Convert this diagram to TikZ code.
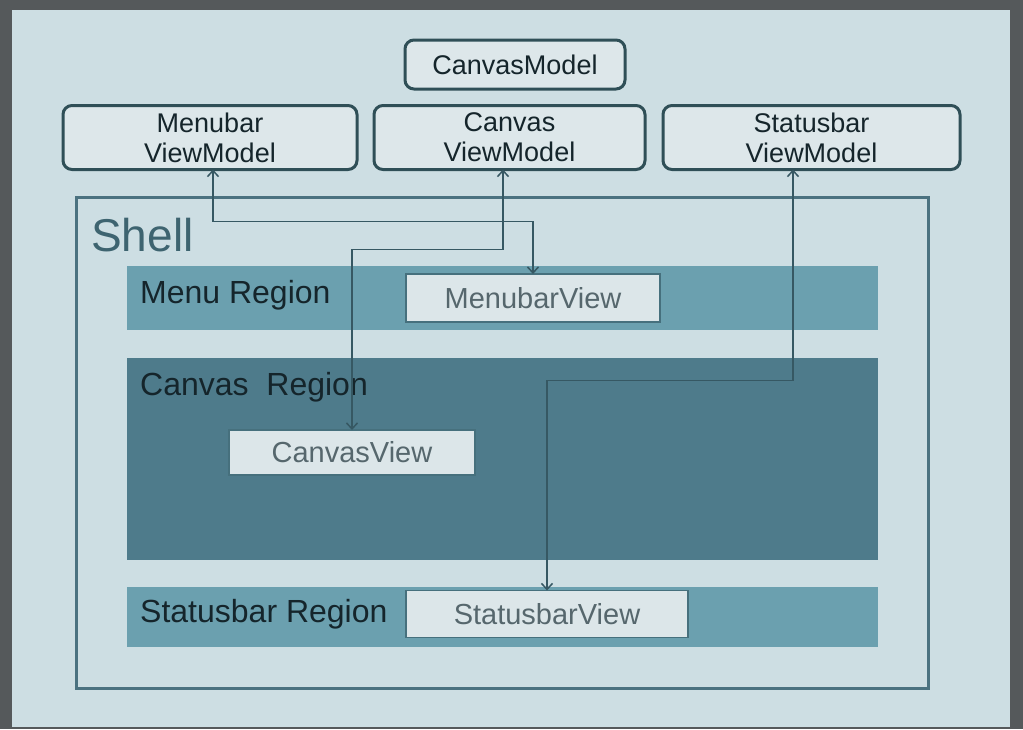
\documentclass[tikz,border=0pt]{standalone}
\usepackage{fontspec}
\setmainfont{Liberation Sans}
\usetikzlibrary{arrows.meta}
\definecolor{frame}{HTML}{55595B}
\definecolor{panel}{HTML}{CDDEE3}
\definecolor{boxfill}{HTML}{DDE7EA}
\definecolor{boxline}{HTML}{2F4F57}
\definecolor{shellline}{HTML}{4B7280}
\definecolor{shelltext}{HTML}{3E6470}
\definecolor{lightreg}{HTML}{6BA0AF}
\definecolor{darkreg}{HTML}{4E7B8B}
\definecolor{viewfill}{HTML}{DCE6E9}
\definecolor{viewtext}{HTML}{56676D}
\definecolor{viewshadow}{HTML}{46707D}
\definecolor{conn}{HTML}{365863}
\definecolor{regtext}{HTML}{15252B}
\tikzset{
  vmbox/.style={draw=boxline, line width=3pt, fill=boxfill, rounded corners=9pt,
    inner sep=0pt, outer sep=0pt, align=center, text=regtext,
    font=\fontsize{27}{30}\selectfont},
  shellbox/.style={draw=shellline, line width=3pt, inner sep=0pt, outer sep=0pt},
  lightregion/.style={fill=lightreg, inner sep=0pt, outer sep=0pt},
  darkregion/.style={fill=darkreg, inner sep=0pt, outer sep=0pt},
  viewbox/.style={fill=viewfill, draw=viewshadow, line width=1.2pt, inner sep=0pt, outer sep=0pt,
    text=viewtext, font=\fontsize{29}{32}\selectfont},
  regionlabel/.style={anchor=west, inner sep=0pt, text=regtext, font=\fontsize{32}{36}\selectfont},
  connector/.style={draw=conn, line width=1.5pt,
    {Straight Barb[length=6pt,width=11pt]}-{Straight Barb[length=6pt,width=11pt]}}
}
\begin{document}
\begin{tikzpicture}[x=1pt,y=-1pt]
\useasboundingbox (0,0) rectangle (1023,729);
% frame and panel
\fill[frame] (0,0) rectangle (1023,729);
\fill[panel] (12,10) rectangle (1010,727);

% view model boxes
\node[vmbox, minimum width=220, minimum height=49] (cm) at (515,64.5) {CanvasModel};
\node[vmbox, minimum width=294, minimum height=64] (mvm) at (210,137.5) {Menubar\\ViewModel};
\node[vmbox, minimum width=271, minimum height=64] (cvm) at (509.5,137.5) {Canvas\\ViewModel};
\node[vmbox, minimum width=297, minimum height=64] (svm) at (811.5,137.5) {Statusbar\\ViewModel};

% shell
\node[shellbox, minimum width=852, minimum height=491] (shell) at (502,443) {};
\node[anchor=west, inner sep=0pt, text=shelltext, font=\fontsize{46}{50}\selectfont] (shelllabel) at (91,235) {Shell};

% regions
\node[lightregion, minimum width=751, minimum height=64] (menureg) at (502.5,298) {};
\node[regionlabel] (menulabel) at (140,295) {Menu Region};
\node[darkregion, minimum width=751, minimum height=202] (canvreg) at (502.5,459) {};
\node[regionlabel] (canvlabel) at (140,387) {Canvas\ \ Region};
\node[lightregion, minimum width=751, minimum height=60] (statreg) at (502.5,617) {};
\node[regionlabel] (statlabel) at (140,614) {Statusbar Region};

% views
\node[viewbox, minimum width=254, minimum height=48] (mview) at (533,298) {MenubarView};
\node[viewbox, minimum width=246, minimum height=45] (cview) at (352,452.5) {CanvasView};
\node[viewbox, minimum width=282, minimum height=47] (sview) at (547,614) {StatusbarView};

% connectors
\draw[connector] ([xshift=3pt]mvm.south) -- ++(0,52) -| (mview.north);
\draw[connector] ([xshift=-6.5pt]cvm.south) -- ++(0,80) -| (cview.north);
\draw[connector] ([xshift=-18.5pt]svm.south) -- ++(0,211) -| (sview.north);
\end{tikzpicture}
\end{document}
